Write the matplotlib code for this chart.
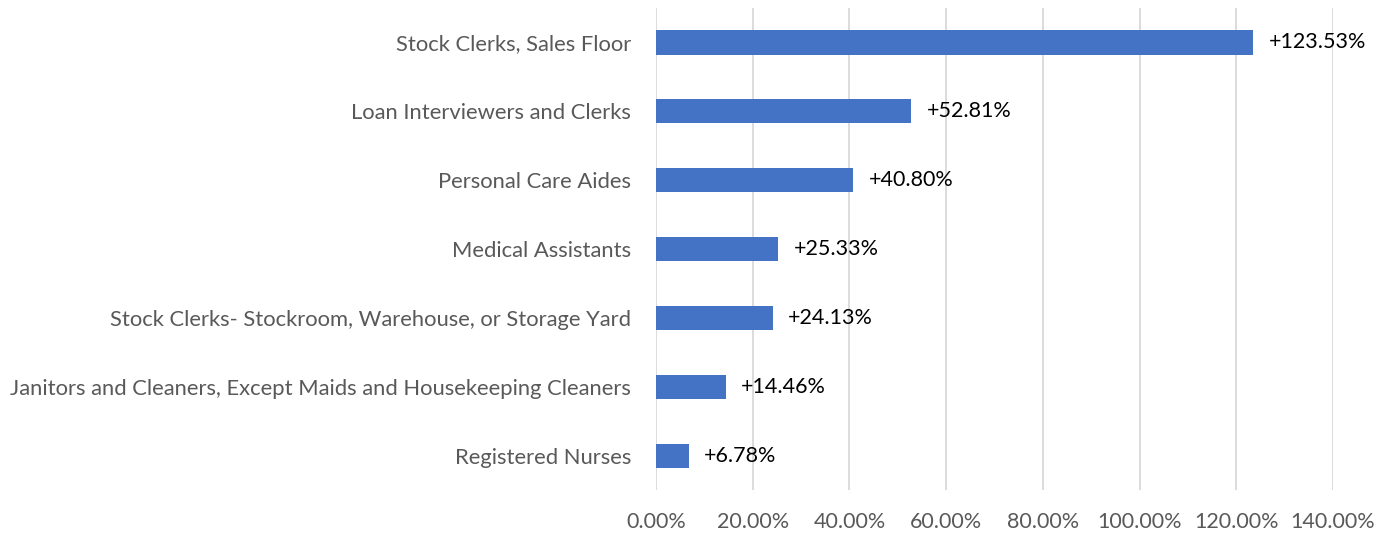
import matplotlib.pyplot as plt
from matplotlib.ticker import FuncFormatter, MultipleLocator

plt.rcParams['font.family'] = ['Lato', 'DejaVu Sans']

# Data
occupations = [
    "Stock Clerks, Sales Floor",
    "Loan Interviewers and Clerks",
    "Personal Care Aides",
    "Medical Assistants",
    "Stock Clerks- Stockroom, Warehouse, or Storage Yard",
    "Janitors and Cleaners, Except Maids and Housekeeping Cleaners",
    "Registered Nurses",
]
growth = [123.53, 52.81, 40.80, 25.33, 24.13, 14.46, 6.78]

fig = plt.figure(figsize=(13.86, 5.35), dpi=100)
ax = fig.add_axes([0.4733, 0.084, 0.4885, 0.901])

y = list(range(len(occupations)))[::-1]
bars = ax.barh(y, growth, height=0.35, color='#4472C4', zorder=3)

for yi, v in zip(y, growth):
    ax.annotate(f"+{v:.2f}%", xy=(v, yi), xytext=(11, 0), textcoords='offset points',
                va='center', ha='left', fontsize=15.5, color='black')

ax.set_xlim(0, 140)
ax.set_ylim(-0.5, len(occupations) - 0.5)
ax.set_yticks(y)
ax.set_yticklabels(occupations, fontsize=15.8)
ax.xaxis.set_major_locator(MultipleLocator(20))
ax.xaxis.set_major_formatter(FuncFormatter(lambda x, p: f"{x:.2f}%"))

ax.grid(axis='x', color='#D9D9D9', linewidth=1.3, zorder=0)
for s in ax.spines.values():
    s.set_visible(False)
ax.tick_params(axis='both', length=0, labelcolor='#595959')
ax.tick_params(axis='x', labelsize=15.5, pad=16)
ax.tick_params(axis='y', pad=18)

fig.savefig('out.png', dpi=100)
